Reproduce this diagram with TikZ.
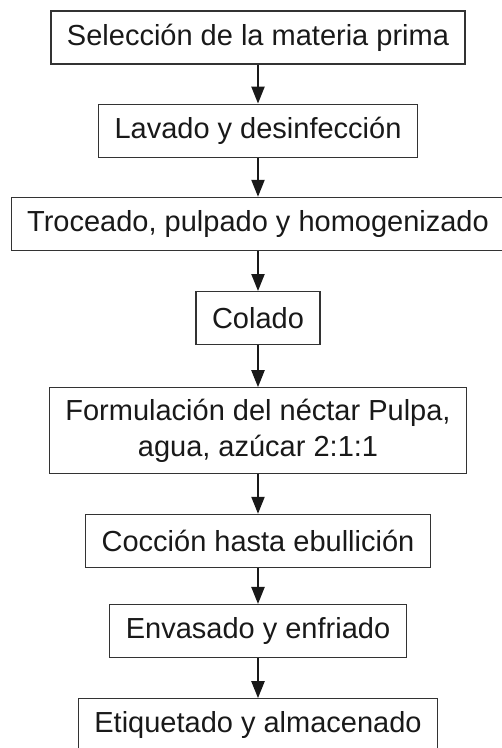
\documentclass[tikz,border=0pt]{standalone}
\usepackage{fontspec}
\setmainfont{Liberation Sans}
\usetikzlibrary{positioning,arrows.meta}

\begin{document}
\begin{tikzpicture}[
    pasonode/.style={rectangle, draw=black!80, line width=1.2pt, text=black!90,
        font=\fontsize{29pt}{36pt}\selectfont, align=center,
        minimum height=53pt, inner xsep=16pt, inner ysep=11pt},
    flecha/.style={-{Triangle[length=17pt,width=13pt]}, draw=black!90, line width=2.2pt}
    ]
        \useasboundingbox (0,0) rectangle (502pt,-748pt);
        %Nodes
        \node[pasonode]
            (sel)   at (258pt,-37.5pt)      {Selección de la materia prima};
        \node[pasonode]
            (lav)   [below=39pt of sel]     {Lavado y desinfección};
        \node[pasonode]
            (troc)  [below=39pt of lav]     {Troceado, pulpado y homogenizado};
        \node[pasonode]
            (col)   [below=40pt of troc]    {Colado};
        \node[pasonode]
            (form)  [below=42pt of col]     {Formulación del néctar Pulpa,\\ agua, azúcar 2:1:1};
        \node[pasonode]
            (cocc)  [below=40pt of form]    {Cocción hasta ebullición};
        \node[pasonode]
            (env)   [below=36pt of cocc]    {Envasado y enfriado};
        \node[pasonode]
            (etiq)  [below=40pt of env]     {Etiquetado y almacenado};

        %Lines
        \draw[flecha] (sel.south) -- (lav.north);
        \draw[flecha] (lav.south) -- (troc.north);
        \draw[flecha] (troc.south) -- (col.north);
        \draw[flecha] (col.south) -- (form.north);
        \draw[flecha] (form.south) -- (cocc.north);
        \draw[flecha] (cocc.south) -- (env.north);
        \draw[flecha] (env.south) -- (etiq.north);
    \end{tikzpicture}
\end{document}
